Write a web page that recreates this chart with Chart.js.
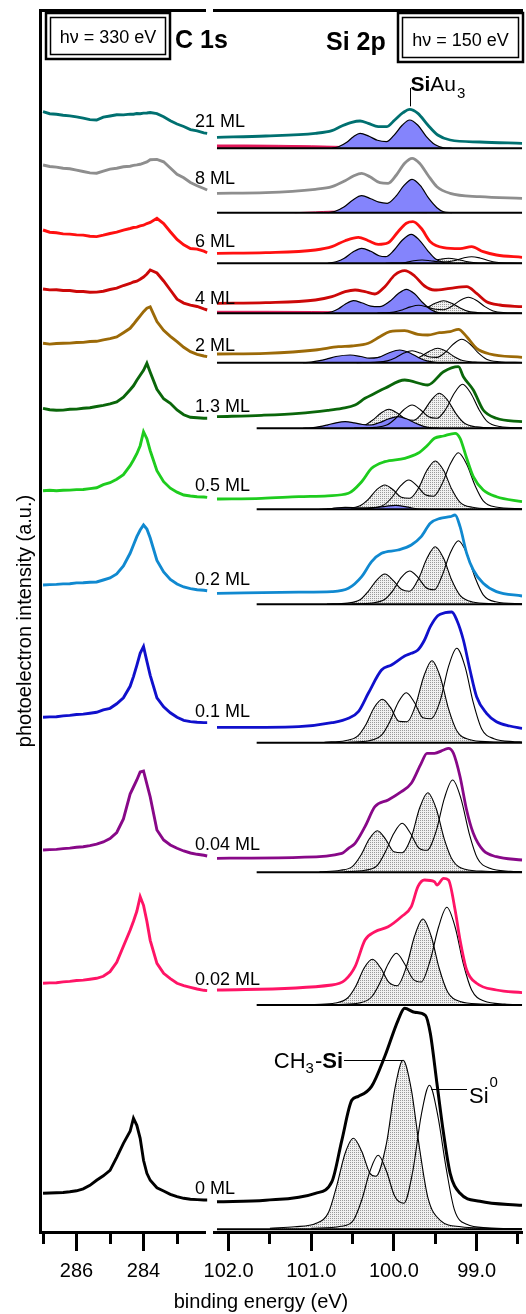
<!DOCTYPE html>
<html>
<head>
<meta charset="utf-8">
<script src="https://cdn.jsdelivr.net/npm/chart.js@4/dist/chart.umd.min.js"></script>
<style>
body { margin: 0; background: #fff; }
#wrap { position: relative; width: 526px; height: 1314px; }
#wrap canvas { position: absolute; left: 0; top: 0; }
#xtitle { position: absolute; left: 0; width: 522px; top: 1290px; text-align: center;
          font: 20px "Liberation Sans", Arial, sans-serif; color: #000; }
</style>
</head>
<body>
<div id="wrap">
  <canvas id="chart_c1s" width="526" height="1314"></canvas>
  <canvas id="chart_si2p" width="526" height="1314"></canvas>
  <div id="xtitle">binding energy (eV)</div>
</div>
<script>
//----------------------------------------------------------------------------------------------------------------------------
// data: stacked XPS spectra, C 1s (left) and Si 2p (right), intensity in a.u.
//----------------------------------------------------------------------------------------------------------------------------
var coverageLabels = ["21 ML", "8 ML", "6 ML", "4 ML", "2 ML", "1.3 ML", "0.5 ML", "0.2 ML", "0.1 ML", "0.04 ML", "0.02 ML", "0 ML"];
var traceColors = ["#007070", "#8e8e8e", "#ff1010", "#cc0808", "#9c6a08", "#0a660a", "#1ecc1e", "#1089d0", "#1010cc", "#880888", "#ff1466", "#000000"];

// vertical stacking offsets (a.u.)
var c1sOffset  = [1120.3, 1067, 1002, 943, 888.7, 823.7, 741.3, 647, 514.7, 382, 248.7, 38.7];
var si2pOffset = [1083.7, 1019.3, 968.7, 918.7, 869.3, 803.7, 722.7, 627.7, 489.3, 359.7, 227, 2.7];

// C 1s
var c1sEnergy = [287.0, 286.8, 286.6, 286.4, 286.2, 286.0, 285.8, 285.6, 285.4, 285.2, 285.0, 284.8, 284.6, 284.4, 284.3, 284.2, 284.1, 284.0, 283.9, 283.8, 283.6, 283.4, 283.2, 283.0, 282.8, 282.6, 282.4, 282.2, 282.1];
var c1s_21  = [0, -2, -2.6, -3.5, -4.2, -5.2, -6.4, -7.9, -8.3, -5.4, -4.3, -3.1, -3.2, -2.4, -2.5, -1.8, -2.0, -1.4, -1.3, -0.8, -1.9, -5, -9, -12.3, -14.8, -17.9, -19.2, -21.2, -21.7];
var c1s_8   = [0, -1.5, -2.1, -3.2, -3.8, -5.2, -6.5, -7.9, -8.2, -6.2, -4.1, -3.2, -1.8, -1.2, -0.4, 0.1, 0.7, 1.8, 3.1, 5.2, 5.6, 3.2, -3, -9.2, -12.8, -17.5, -20.8, -23.5, -25];
var c1s_6   = [0, -2.2, -2.8, -3.9, -4.1, -4.9, -5.1, -6.2, -6.6, -5.2, -3.5, -2.2, -0.1, 1.5, 2.5, 2.8, 4.2, 4.8, 6.5, 7.5, 11.7, 6.5, -1.7, -9.5, -14.8, -18.5, -19.1, -21.2, -22.7];
var c1s_4   = [0, -0.9, -0.8, -1.5, -1.5, -2.5, -2.5, -3.2, -3.1, -2.2, -0.5, 0.8, 3.5, 5.5, 7, 7.8, 9.7, 12, 15, 19, 16, 8, -1, -10.2, -14.1, -16.2, -17.5, -19.9, -21];
var c1s_2   = [0, -0.8, -0.2, 0.1, 0.2, 0.8, 0.9, 1.8, 2, 3.5, 4.6, 6.4, 10.6, 15, 19, 23.3, 27.5, 31.7, 35, 36.5, 21.7, 13, 7, 1.7, -4, -8.3, -11, -12.7, -13.3];
var c1s_13  = [0, -1.4, -1.9, -1.8, -0.9, -0.8, 0.1, 0.6, 1.8, 2.9, 4.4, 6.4, 11.1, 18.5, 22.5, 28, 33, 38, 45, 36, 19, 9.5, 5, -1.7, -6.5, -9, -9.5, -10, -10];
var c1s_05  = [0, 0.4, -0.1, 0.4, 0.6, 1.1, 1.2, 2.1, 2.9, 6, 8, 11.5, 16, 25, 30.7, 37, 45, 59, 52, 40, 20, 9, 2.5, -1.5, -4.3, -5.3, -6, -6.3, -6.7];
var c1s_02  = [0, 0.4, 0.6, 1.1, 1.2, 2.1, 2.2, 2.8, 3, 5, 7, 11, 19, 31.7, 40, 48.3, 55, 60, 56, 47, 24.5, 13, 5.5, 1, -2, -3.7, -4.7, -5.3, -5.7];
var c1s_01  = [0, 0.4, 0.6, 1.4, 1.9, 2.8, 3.2, 4.1, 5, 7.5, 9, 13.5, 19.5, 31, 40.7, 52, 64, 70.7, 56, 42, 19.5, 10.5, 4.5, 0, -3, -4.3, -5, -5.3, -5.3];
var c1s_004 = [0, 0.4, 0.6, 1.4, 1.9, 2.8, 3.2, 4.4, 5.8, 8, 11.5, 17.5, 31, 56, 63, 70, 78, 79, 66, 53, 20, 10, 5, 1.7, -1, -3, -4.3, -5.3, -6];
var c1s_002 = [0, 0.4, 0.6, 1.4, 1.9, 2.8, 3.2, 4.1, 5, 7, 11.7, 21, 37, 53, 62, 72, 86.7, 78, 62, 43, 20, 10, 4.7, 0, -2.3, -4, -5.7, -7, -7.3];
var c1s_0   = [0, 0.3, 0.5, 0.8, 1.5, 2.5, 4.5, 8, 13, 17.5, 23, 36, 50, 62, 75, 68, 55, 33, 20, 13, 5.5, 2.3, -1, -3.3, -5, -6, -6.3, -6.7, -6.7];
var c1sCounts = [c1s_21, c1s_8, c1s_6, c1s_4, c1s_2, c1s_13, c1s_05, c1s_02, c1s_01, c1s_004, c1s_002, c1s_0];

// Si 2p measured envelopes [binding energy, intensity above the fit baseline]
var tot_21  = [[102.14,11],[101.55,12.3],[100.95,15],[100.75,17.6],[100.63,22.3],[100.51,26],[100.41,27.3],[100.31,25],[100.19,21.6],[100.09,21.6],[99.99,28.3],[99.89,35.6],[99.81,39],[99.71,35],[99.59,23.3],[99.47,13.3],[99.32,8.3],[98.96,6.3],[98.45,5]];
var tot_8   = [[102.14,19.4],[101.55,20],[100.95,23.4],[100.75,26],[100.59,32],[100.49,36.7],[100.39,39.4],[100.29,36],[100.17,30],[100.07,29.4],[99.97,37.7],[99.87,49.4],[99.78,54.4],[99.69,49.4],[99.59,37.7],[99.48,26],[99.32,19.4],[98.96,16],[98.45,14.4]];
var tot_6   = [[102.14,10],[101.55,10.6],[100.95,13.3],[100.75,16.6],[100.59,22.6],[100.43,26],[100.31,22.6],[100.19,19],[100.07,20.6],[99.95,31.6],[99.85,40],[99.77,41.6],[99.67,35],[99.56,21.6],[99.40,15.6],[99.20,14.6],[99.06,16.6],[98.92,11.6],[98.76,8.3],[98.45,6]];
var tot_4   = [[102.14,10],[101.55,10.6],[100.95,13.3],[100.75,16.6],[100.59,21.6],[100.47,23.3],[100.35,21.6],[100.23,19.3],[100.11,26.6],[99.99,38.3],[99.87,42.6],[99.75,37.3],[99.63,27.3],[99.51,23.3],[99.32,25],[99.12,26.6],[99.0,20],[98.88,11.6],[98.72,8.3],[98.45,6.6]];
var tot_2   = [[102.14,8.7],[101.55,9.4],[100.95,12.7],[100.67,16],[100.51,16.7],[100.31,19.4],[100.17,26],[100.05,31],[99.87,32],[99.71,28.4],[99.59,27.7],[99.45,30],[99.32,31],[99.22,33.4],[99.12,26],[99.0,14.4],[98.84,8.7],[98.45,5.4]];
var tot_13  = [[102.14,11.6],[101.6,13],[101.15,15],[100.8,18],[100.63,20],[100.47,23.3],[100.35,30],[100.23,35],[100.11,40],[99.87,48.3],[99.59,43.3],[99.40,56.6],[99.22,61.6],[99.16,51.6],[99.04,38.3],[98.92,18.3],[98.76,10],[98.45,6.6]];
var tot_05  = [[102.14,10.3],[101.6,11],[101.15,12.6],[100.8,13.5],[100.55,16],[100.39,27.6],[100.27,41],[100.11,47.6],[99.87,51],[99.71,56],[99.59,64.3],[99.51,71],[99.40,73.3],[99.26,76],[99.20,71],[99.12,51],[99.04,32.6],[98.92,19.3],[98.76,12.6],[98.45,7.6]];
var tot_02  = [[102.14,11],[101.15,12.2],[100.75,12.7],[100.55,16],[100.39,27.7],[100.27,42.7],[100.15,51],[99.95,54.3],[99.79,59.3],[99.67,67.6],[99.56,81],[99.44,86],[99.32,87.6],[99.26,89.3],[99.20,77.6],[99.12,51],[99.04,34.3],[98.92,21],[98.76,12.7],[98.45,8.3]];
var tot_01  = [[102.14,15.4],[101.55,15.4],[101.15,16],[100.75,20],[100.55,24.4],[100.43,31],[100.31,49.4],[100.15,72.7],[100.03,77.7],[99.87,86.7],[99.79,89.4],[99.71,92.7],[99.63,102.7],[99.56,116],[99.47,127],[99.38,130],[99.30,130.7],[99.24,122.7],[99.16,102.7],[99.08,72.7],[99.0,46],[98.88,29.4],[98.76,21],[98.6,16.7],[98.45,14.4]];
var tot_004 = [[102.14,14],[101.15,15],[100.63,19],[100.55,24],[100.47,29],[100.35,45.6],[100.23,65.6],[100.07,72.3],[99.91,80.6],[99.79,89],[99.67,109],[99.6,119],[99.51,119],[99.40,122.3],[99.34,124],[99.28,119],[99.20,95.6],[99.12,62],[99.04,39],[98.92,22],[98.76,15.6],[98.45,12.3]];
var tot_002 = [[102.14,15],[100.75,20],[100.59,25],[100.47,38.3],[100.35,65],[100.23,73.3],[100.07,78.3],[99.91,88.3],[99.79,98.3],[99.71,118.3],[99.63,125],[99.51,123.3],[99.48,120],[99.40,126.7],[99.34,125],[99.26,95],[99.20,65],[99.12,35],[99.0,21.7],[98.76,15],[98.45,12.3]];
var tot_0   = [[102.14,27.6],[101.55,29],[100.95,36],[100.75,47.6],[100.63,89],[100.51,129],[100.43,133],[100.27,143],[100.11,173],[99.95,209],[99.87,221],[99.75,217],[99.62,214],[99.56,196],[99.48,146],[99.40,96],[99.32,56],[99.20,36],[98.96,28],[98.45,24]];
var si2pTotals = [tot_21, tot_8, tot_6, tot_4, tot_2, tot_13, tot_05, tot_02, tot_01, tot_004, tot_002, tot_0];

// fitted components: CH3-Si doublet (dotted), Si0 doublet (open), SiAu3 doublet (blue), broad background (red)
var ch3_6   = [[100.4,0.1],[100.14,1],[100.04,2],[99.94,2.5],[99.84,2],[99.74,1.2],[99.64,1.1],[99.54,2.3],[99.44,4],[99.34,5],[99.24,4],[99.14,2.1],[99.04,0.8],[98.9,0.2],[98.45,0]];
var ch3_4   = [[100.5,0.2],[100.3,0.9],[100.2,2.6],[100.1,5],[100.0,6.3],[99.9,5],[99.8,3],[99.7,2.8],[99.6,5.7],[99.5,10],[99.4,12.6],[99.3,10],[99.2,5.3],[99.1,1.9],[98.95,0.5],[98.7,0.1],[98.45,0]];
var ch3_2   = [[100.6,0.2],[100.37,1],[100.27,3],[100.17,5.6],[100.07,7],[99.97,5.6],[99.87,3.5],[99.77,3.2],[99.67,6.5],[99.57,11.5],[99.47,14.4],[99.37,11.5],[99.27,6],[99.17,2.2],[99.02,0.6],[98.8,0.1],[98.45,0]];
var ch3_13  = [[100.76,0.2],[100.51,0.8],[100.36,2.8],[100.26,8],[100.16,15],[100.06,19],[99.96,15.2],[99.86,9.4],[99.76,8],[99.65,16],[99.55,28],[99.45,35],[99.35,28],[99.25,14.7],[99.15,5.3],[99.0,1.4],[98.75,0.35],[98.45,0.1]];
var ch3_05  = [[100.81,0.3],[100.56,1],[100.41,3.6],[100.31,10],[100.21,19.5],[100.11,24.3],[100.01,19.5],[99.91,12],[99.81,11],[99.70,21.5],[99.60,39],[99.50,48.3],[99.40,39],[99.30,20],[99.20,7],[99.05,2],[98.8,0.5],[98.45,0.1]];
var ch3_02  = [[100.81,0.3],[100.56,1.2],[100.41,4.5],[100.31,13],[100.21,24],[100.11,30.3],[100.01,24],[99.91,15],[99.81,13],[99.70,26],[99.60,46],[99.50,57.6],[99.40,46],[99.30,24],[99.20,9],[99.05,2.3],[98.8,0.6],[98.45,0.1]];
var ch3_01  = [[100.84,0.5],[100.59,2],[100.44,6.5],[100.34,18],[100.24,35],[100.14,43.4],[100.04,35],[99.94,21.5],[99.84,21],[99.74,37],[99.64,66],[99.54,82],[99.44,66],[99.34,34],[99.24,12],[99.09,3.3],[98.84,1],[98.45,0.2]];
var ch3_004 = [[100.9,0.5],[100.65,2],[100.5,6],[100.4,17],[100.3,33],[100.2,41.6],[100.1,33],[100.0,20.5],[99.9,19.6],[99.79,35],[99.69,64],[99.59,79.6],[99.49,64],[99.39,33],[99.29,12],[99.14,3],[98.89,1],[98.45,0.2]];
var ch3_002 = [[100.96,0.5],[100.71,2],[100.56,7],[100.46,19],[100.36,37],[100.26,45.7],[100.16,37],[100.06,22.6],[99.96,19.3],[99.85,38],[99.75,69],[99.65,86],[99.55,69],[99.45,36],[99.35,13],[99.2,3.5],[98.95,1],[98.45,0.2]];
var ch3_0   = [[101.5,1],[101.2,2.5],[100.94,6],[100.79,17],[100.69,44],[100.59,76],[100.49,91],[100.39,78],[100.29,56],[100.22,53],[100.09,86],[99.99,140],[99.89,169],[99.79,140],[99.69,81],[99.59,32],[99.44,9],[99.19,2.5],[98.9,1],[98.45,0.5]];
var si2pCH3 = [null, null, ch3_6, ch3_4, ch3_2, ch3_13, ch3_05, ch3_02, ch3_01, ch3_004, ch3_002, ch3_0];

var si0_6   = [[100.1,0.1],[99.86,0.8],[99.76,2.6],[99.66,3.3],[99.56,2.6],[99.46,1.6],[99.36,1.5],[99.26,2.9],[99.16,5.3],[99.06,6.6],[98.96,5.3],[98.86,2.8],[98.76,1],[98.6,0.2],[98.45,0]];
var si0_4   = [[100.2,0.2],[100.0,1.2],[99.9,3.4],[99.8,6.4],[99.7,8],[99.6,6.4],[99.5,4],[99.4,3.6],[99.3,7],[99.2,12.8],[99.1,16],[99.0,12.8],[98.9,6.7],[98.8,2.4],[98.65,0.6],[98.45,0.1]];
var si0_2   = [[100.45,0.1],[100.23,0.5],[100.08,1.8],[99.98,5],[99.88,9.6],[99.78,12],[99.68,9.6],[99.58,6],[99.48,5.3],[99.38,10.3],[99.28,18.7],[99.18,23.4],[99.08,18.7],[98.98,9.8],[98.88,3.5],[98.73,1],[98.45,0.2]];
var si0_13  = [[100.48,0.2],[100.23,0.9],[100.08,3.5],[99.98,9.8],[99.88,18.6],[99.78,23.3],[99.68,18.6],[99.58,11.5],[99.48,10],[99.37,19.5],[99.27,35],[99.17,44],[99.07,35],[98.97,18.5],[98.87,6.6],[98.72,1.8],[98.45,0.4]];
var si0_05  = [[100.52,0.3],[100.27,1.2],[100.12,4.4],[100.02,12.3],[99.92,23.4],[99.82,29.3],[99.72,23.4],[99.62,14.5],[99.52,13],[99.42,25],[99.32,45],[99.22,56.6],[99.12,45],[99.02,24],[98.92,8.5],[98.77,2.3],[98.45,0.5]];
var si0_02  = [[100.51,0.3],[100.26,1.3],[100.11,5],[100.01,14],[99.91,27],[99.81,33.3],[99.71,27],[99.61,16.5],[99.51,14.5],[99.42,28],[99.32,51],[99.22,63.6],[99.12,51],[99.02,27],[98.92,9.5],[98.77,2.5],[98.45,0.5]];
var si0_01  = [[100.55,0.5],[100.3,2],[100.15,7.5],[100.05,21],[99.95,40],[99.85,50],[99.75,40],[99.65,25],[99.55,24],[99.44,42],[99.34,76],[99.24,94.4],[99.14,76],[99.04,40],[98.94,14],[98.79,4],[98.54,1],[98.45,0.7]];
var si0_004 = [[100.6,0.5],[100.35,2],[100.2,7],[100.1,21],[100.0,39],[99.9,49],[99.8,39],[99.7,24.5],[99.6,22],[99.49,41],[99.39,74],[99.29,92.3],[99.19,74],[99.09,39],[98.99,14],[98.84,4],[98.59,1],[98.45,0.5]];
var si0_002 = [[100.67,0.5],[100.42,2],[100.27,8],[100.17,22],[100.07,41],[99.97,51.7],[99.87,41],[99.77,26],[99.67,23],[99.56,45],[99.46,78],[99.36,97.7],[99.26,78],[99.16,41],[99.06,15],[98.91,4],[98.66,1],[98.45,0.3]];
var si0_0   = [[101.0,1],[100.64,3],[100.49,9],[100.39,29],[100.29,58],[100.19,74],[100.09,58],[99.99,33],[99.88,26],[99.77,59],[99.67,114],[99.57,144],[99.47,114],[99.37,62],[99.27,20],[99.12,5],[98.87,1.5],[98.45,0.5]];
var si2pSi0 = [null, null, si0_6, si0_4, si0_2, si0_13, si0_05, si0_02, si0_01, si0_004, si0_002, si0_0];

var siau3_21 = [[100.75,0],[100.67,1.5],[100.57,6],[100.49,11.5],[100.41,15],[100.3,12],[100.2,8],[100.09,6.6],[100.0,13],[99.9,23],[99.81,28.3],[99.71,23],[99.61,12],[99.5,3.5],[99.4,0.5],[99.3,0]];
var siau3_8  = [[100.8,0],[100.71,1.5],[100.6,6],[100.5,12.5],[100.39,17],[100.28,14],[100.18,10.5],[100.08,9.4],[99.98,16],[99.88,27],[99.78,33.4],[99.68,27],[99.58,14.5],[99.48,5],[99.4,1],[99.3,0]];
var siau3_6  = [[100.8,0],[100.7,1.5],[100.6,5],[100.5,11],[100.39,15],[100.28,12],[100.18,7.5],[100.1,6.6],[100.0,13],[99.9,23],[99.79,29],[99.69,23],[99.59,12.5],[99.5,4.5],[99.4,0.8],[99.3,0]];
var siau3_4  = [[100.85,0],[100.75,1.5],[100.67,4.5],[100.59,9],[100.49,12.6],[100.39,10.5],[100.28,7.2],[100.17,6.6],[100.05,12],[99.95,19.5],[99.85,24],[99.75,19.5],[99.65,10.5],[99.55,3.5],[99.45,0.5],[99.35,0]];
var siau3_2  = [[101.1,0],[101.0,0.6],[100.9,2],[100.8,4],[100.7,6.2],[100.53,7.7],[100.4,6.2],[100.3,4.5],[100.2,5],[100.07,9.5],[99.93,12.7],[99.8,9.5],[99.7,5],[99.6,1.8],[99.5,0.4],[99.4,0]];
var siau3_13 = [[101.1,0],[101.0,0.5],[100.9,1.7],[100.8,3.5],[100.7,5.5],[100.59,6.6],[100.48,5.5],[100.38,3.8],[100.28,3.3],[100.18,5.5],[100.06,9.5],[99.95,11.6],[99.85,9.5],[99.75,5.5],[99.65,2.2],[99.55,0.5],[99.45,0]];
var siau3_05 = [[100.9,0],[100.75,0.8],[100.59,2],[100.4,1.4],[100.25,1.6],[100.1,3],[99.98,4],[99.85,2.5],[99.71,0.3],[99.6,0]];
var si2pSiAu3 = [siau3_21, siau3_8, siau3_6, siau3_4, siau3_2, siau3_13, siau3_05, null, null, null, null, null];

var broad_21 = [[102.14,3.3],[101.8,3.3],[101.4,3],[101.0,2.5],[100.6,1.8],[100.2,1],[99.9,0.4],[99.6,0]];
var broad_8  = [[101.2,0],[100.95,0.8],[100.75,1.5],[100.5,1.5],[100.2,1],[99.9,0.4],[99.6,0]];
var broad_4  = [[102.14,2],[101.5,2],[101.0,1.8],[100.5,1.3],[100.0,0.7],[99.6,0.2],[99.3,0]];
var si2pBroad = [broad_21, broad_8, null, broad_4, null, null, null, null, null, null, null, null];

// energy where each fit baseline begins (ends at 98.45 eV)
var baselineStart = [102.14, 102.14, 102.14, 102.14, 102.14, 101.66, 101.66, 101.66, 101.66, 101.66, 101.66, 102.14];

//----------------------------------------------------------------------------------------------------------------------------
var FONT = '"Liberation Sans", Arial, sans-serif';
Chart.defaults.font.family = FONT;
Chart.defaults.color = "#000";

function ExceptionHandler(e) {
    console.log("chart error: " + e.name + " :: " + e.message);
}

function shift(pairs, off) {
    return pairs.map(function (p) { return { x: p[0], y: p[1] + off }; });
}

function makeStipple(ctx) {
    var c = document.createElement("canvas");
    c.width = 2; c.height = 2;
    var g = c.getContext("2d");
    g.fillStyle = "#f1f1f1"; g.fillRect(0, 0, 2, 2);
    g.fillStyle = "#9a9a9a"; g.fillRect(0, 0, 1, 1);
    return ctx.createPattern(c, "repeat");
}

function isWhole(v) { return Math.abs(v - Math.round(v)) < 1e-6; }

function bottomAxis(min, max, step, isMajor, fmt) {
    return {
        type: "linear", position: "bottom", reverse: true, min: min, max: max,
        afterFit: function (s) { s.height = 82; },
        border: { display: true, width: 3, color: "#000" },
        grid: {
            display: true, drawOnChartArea: false, tickLength: 19, tickWidth: 3, tickColor: "#000",
            tickBorderDash: function (ctx) { return (ctx.tick && isMajor(ctx.tick.value)) ? [] : [10, 40]; }
        },
        ticks: {
            stepSize: step, includeBounds: false, autoSkip: false, maxRotation: 0, padding: 8,
            color: "#000", font: { size: 20 },
            callback: function (v) { return isMajor(v) ? fmt(v) : ""; }
        }
    };
}

function topFrame() {
    return {
        type: "linear", position: "top", display: true,
        afterFit: function (s) { s.height = 10; },
        border: { display: true, width: 3, color: "#000" },
        grid: { display: false }, ticks: { display: false }
    };
}

function boxedLabel(ctx, x, y, w, h, text, textY) {
    ctx.lineWidth = 2.5; ctx.strokeStyle = "#000";
    ctx.strokeRect(x, y, w, h);
    ctx.lineWidth = 1.5;
    ctx.strokeRect(x + 4.5, y + 4.5, w - 9, h - 9);
    ctx.font = "18px " + FONT; ctx.textAlign = "center"; ctx.textBaseline = "alphabetic";
    ctx.fillText(text, x + w / 2, textY);
}

var labelPlugin = {
    id: "labels",
    afterDraw: function (chart) {
        var ctx = chart.ctx, xs = chart.scales.x, ys = chart.scales.y;
        ctx.save();
        ctx.fillStyle = "#000";

        // coverage next to the end of each C 1s trace
        ctx.font = "18px " + FONT; ctx.textAlign = "left"; ctx.textBaseline = "middle";
        for (var i = 0; i < coverageLabels.length; i++) {
            var tr = c1sCounts[i];
            ctx.fillText(coverageLabels[i], 195, ys.getPixelForValue(c1sOffset[i] + tr[tr.length - 1]) - 11);
        }

        // panel headers
        boxedLabel(ctx, 46, 13, 124, 46, "h\u03bd = 330 eV", 43);
        boxedLabel(ctx, 398, 13, 125, 49, "h\u03bd = 150 eV", 46);
        ctx.textAlign = "left"; ctx.textBaseline = "alphabetic";
        ctx.font = "bold 25px " + FONT;
        ctx.fillText("C 1s", 175, 48);
        ctx.fillText("Si 2p", 326, 50);

        ctx.strokeStyle = "#000"; ctx.lineWidth = 1;

        // SiAu3 marker on the 21 ML envelope
        var sx = Math.round(xs.getPixelForValue(99.81)) + 0.5;
        var sy = ys.getPixelForValue(si2pOffset[0] + 39);
        ctx.beginPath(); ctx.moveTo(sx, sy - 3); ctx.lineTo(sx, 88); ctx.stroke();
        ctx.font = "bold 21px " + FONT; ctx.fillText("Si", sx, 91);
        var w = ctx.measureText("Si").width;
        ctx.font = "21px " + FONT; ctx.fillText("Au", sx + w, 91);
        w += ctx.measureText("Au").width;
        ctx.font = "15px " + FONT; ctx.fillText("3", sx + w + 1, 98);

        // CH3-Si and Si0 markers on the 0 ML fit
        var off = si2pOffset[11];
        var cx = xs.getPixelForValue(99.89), cy = Math.round(ys.getPixelForValue(off + 169)) + 0.5;
        ctx.beginPath(); ctx.moveTo(344, cy); ctx.lineTo(cx, cy); ctx.stroke();
        ctx.font = "bold 22px " + FONT;
        var wSi = ctx.measureText("Si").width;
        ctx.fillText("Si", 343 - wSi, cy + 7);
        ctx.font = "22px " + FONT;
        var wDash = ctx.measureText("-").width;
        ctx.fillText("-", 343 - wSi - wDash, cy + 7);
        ctx.font = "15px " + FONT;
        var w3 = ctx.measureText("3").width;
        ctx.fillText("3", 343 - wSi - wDash - w3 - 1, cy + 12);
        ctx.font = "22px " + FONT;
        var wCH = ctx.measureText("CH").width;
        ctx.fillText("CH", 343 - wSi - wDash - w3 - 1 - wCH, cy + 7);

        var px = xs.getPixelForValue(99.55), py = Math.round(ys.getPixelForValue(off + 144)) + 4.5;
        ctx.beginPath(); ctx.moveTo(px, py); ctx.lineTo(467, py); ctx.stroke();
        ctx.font = "22px " + FONT; ctx.fillText("Si", 469, py + 13);
        var wS = ctx.measureText("Si").width;
        ctx.font = "15px " + FONT; ctx.fillText("0", 469 + wS + 1, py - 3);
        ctx.restore();
    }
};

function DrawC1s() {
    try {
        var sets = c1sCounts.map(function (counts, i) {
            return {
                data: counts.map(function (v, k) { return { x: c1sEnergy[k], y: v + c1sOffset[i] }; }),
                borderColor: traceColors[i], borderWidth: 2.9, tension: 0, fill: false, clip: false
            };
        });
        new Chart(document.getElementById("chart_c1s"), {
            type: "line",
            data: { datasets: sets },
            options: {
                responsive: false, animation: false, devicePixelRatio: 1,
                layout: { padding: { left: 0, right: 321, top: 0, bottom: 0 } },
                elements: { point: { radius: 0 } },
                plugins: { legend: { display: false }, tooltip: { enabled: false } },
                scales: {
                    x: bottomAxis(282.165, 287.09, 1, function (v) { return isWhole(v) && Math.round(v) % 2 === 0; },
                        function (v) { return String(Math.round(v)); }),
                    xTop: topFrame(),
                    y: {
                        min: 0, max: 1222,
                        afterFit: function (s) { s.width = 40; },
                        border: { display: true, width: 3, color: "#000" },
                        grid: { display: false }, ticks: { display: false },
                        title: { display: true, text: "photoelectron intensity (a.u.)", color: "#000",
                                 font: { size: 20 }, padding: { top: 13, bottom: 0 } }
                    }
                }
            }
        });
    }
    catch (e) {
        ExceptionHandler(e);
    }
}

function DrawSi2p() {
    try {
        var canvas = document.getElementById("chart_si2p");
        var stipple = makeStipple(canvas.getContext("2d"));
        var sets = [];
        for (var i = 0; i < coverageLabels.length; i++) {
            var off = si2pOffset[i];
            if (si2pBroad[i]) {
                sets.push({ data: shift(si2pBroad[i], off), borderColor: "#e2185a", backgroundColor: "#e2185a",
                            borderWidth: 1, fill: { value: off }, order: 6, cubicInterpolationMode: "monotone" });
            }
            if (si2pCH3[i]) {
                sets.push({ data: shift(si2pCH3[i], off), borderColor: "#000", backgroundColor: stipple,
                            borderWidth: 1.1, fill: { value: off }, order: 5, cubicInterpolationMode: "monotone" });
            }
            if (si2pSiAu3[i]) {
                sets.push({ data: shift(si2pSiAu3[i], off), borderColor: "#000", backgroundColor: "#8484fc",
                            borderWidth: 1.2, fill: { value: off }, order: 4, cubicInterpolationMode: "monotone" });
            }
            if (si2pSi0[i]) {
                sets.push({ data: shift(si2pSi0[i], off), borderColor: "#000", borderWidth: 1.1,
                            fill: false, order: 3, cubicInterpolationMode: "monotone" });
            }
            sets.push({ data: shift([[baselineStart[i], 0], [98.45, 0]], off), borderColor: "#000",
                        borderWidth: 2, fill: false, order: 2 });
            sets.push({ data: shift(si2pTotals[i], off), borderColor: traceColors[i],
                        borderWidth: (i === 11 ? 3 : 2.8), fill: false, order: 1, cubicInterpolationMode: "monotone" });
        }
        new Chart(canvas, {
            type: "line",
            data: { datasets: sets },
            options: {
                responsive: false, animation: false, devicePixelRatio: 1,
                layout: { padding: { left: 214, right: 0, top: 0, bottom: 0 } },
                elements: { point: { radius: 0 } },
                plugins: { legend: { display: false }, tooltip: { enabled: false } },
                scales: {
                    x: bottomAxis(98.448, 102.176, 0.5, isWhole, function (v) { return v.toFixed(1); }),
                    xTop: topFrame(),
                    y: { display: false, min: 0, max: 1222 }
                }
            },
            plugins: [labelPlugin]
        });
    }
    catch (e) {
        ExceptionHandler(e);
    }
}

DrawC1s();
DrawSi2p();
</script>
</body>
</html>
